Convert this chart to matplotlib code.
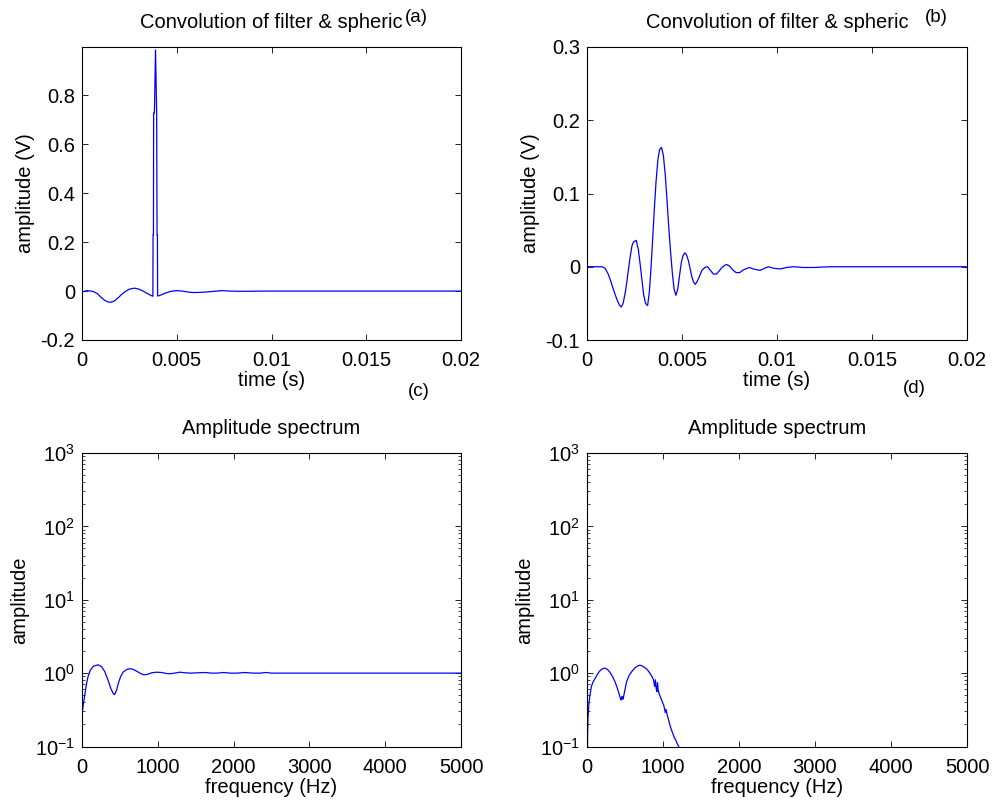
import matplotlib
matplotlib.use("Agg")
import matplotlib.pyplot as plt
import numpy as np

plt.rcParams['font.family'] = ['Liberation Sans', 'DejaVu Sans']
plt.rcParams['mathtext.fontset'] = 'custom'
plt.rcParams['mathtext.rm'] = 'Liberation Sans'
plt.rcParams['mathtext.it'] = 'Liberation Sans'

# (a) convolution of filter & spheric, time in ms
t_a = [0.0, 0.1, 0.2, 0.4, 0.6, 0.8, 1.0, 1.2, 1.4, 1.5,
       1.7, 1.9, 2.1, 2.3, 2.5, 2.77, 3.0, 3.2, 3.4, 3.6,
       3.7, 3.74, 3.75, 3.77, 3.78, 3.82, 3.88, 3.94, 3.96,
       3.98, 3.99, 4.1, 4.4, 4.7, 5.0, 5.3, 5.6, 5.9, 6.3,
       6.7, 7.1, 7.4, 7.8, 8.5, 9.5, 20.0]
v_a = [0.0, -0.002, 0.001, 0.001, -0.002, -0.010, -0.025, -0.038, -0.045, -0.046,
       -0.041, -0.028, -0.013, -0.001, 0.008, 0.012, 0.008, 0.001, -0.008, -0.016,
       -0.020, -0.021, 0.23, 0.23, 0.728, 0.728, 0.986, 0.728, 0.23,
       0.23, -0.02, -0.018, -0.008, -0.001, 0.002, 0.0, -0.004, -0.006, -0.005,
       -0.003, 0.0, 0.002, 0.0, -0.001, 0.0, 0.0]

# (b) convolution of filter & spheric, time in ms
t_b = [0.0, 0.79, 0.95, 1.10, 1.23, 1.40, 1.58, 1.70, 1.80, 1.90,
       2.01, 2.10, 2.19, 2.28, 2.37, 2.45, 2.59, 2.70, 2.80, 2.90,
       2.98, 3.08, 3.19, 3.28, 3.36, 3.45, 3.54, 3.63, 3.73, 3.82,
       3.92, 4.02, 4.12, 4.20, 4.29, 4.39, 4.49, 4.58, 4.68, 4.78,
       4.87, 4.96, 5.05, 5.15, 5.24, 5.34, 5.43, 5.52, 5.61, 5.70,
       5.80, 5.92, 6.05, 6.20, 6.34, 6.50, 6.65, 6.80, 6.95, 7.10,
       7.25, 7.36, 7.50, 7.70, 7.85, 8.03, 8.25, 8.55, 8.75, 9.11,
       9.35, 9.55, 9.80, 10.17, 10.5, 10.87, 11.4, 11.92, 12.8, 20.0]
v_b = [0.0, 0.0, -0.002, -0.009, -0.018, -0.032, -0.045, -0.052, -0.055, -0.050,
       -0.036, -0.020, -0.002, 0.015, 0.029, 0.034, 0.036, 0.024, 0.003, -0.020,
       -0.038, -0.050, -0.053, -0.035, -0.005, 0.035, 0.077, 0.115, 0.146, 0.160,
       0.163, 0.152, 0.125, 0.095, 0.059, 0.023, -0.008, -0.030, -0.039, -0.030,
       -0.012, 0.005, 0.015, 0.019, 0.016, 0.008, -0.003, -0.014, -0.021, -0.024,
       -0.020, -0.013, -0.005, -0.001, 0.0, -0.005, -0.010, -0.010, -0.006, -0.001,
       0.002, 0.003, 0.001, -0.005, -0.008, -0.008, -0.004, -0.001, -0.003, -0.005,
       -0.002, 0.0, -0.002, -0.003, -0.001, 0.0, -0.001, -0.001, 0.0, 0.0]

# (c) amplitude spectrum
f_c = [0, 15, 36, 60, 80, 110, 150, 212, 260, 300, 340, 380, 410, 430, 455, 480,
       510, 545, 590, 632, 680, 730, 780, 817, 860, 920, 985, 1050, 1110, 1162,
       1220, 1294, 1360, 1430, 1530, 1630, 1700, 1780, 1870, 1950, 2050, 2150,
       2250, 2350, 2430, 2500, 5000]
a_c = [0.27, 0.36, 0.50, 0.72, 0.90, 1.10, 1.24, 1.30, 1.22, 1.05, 0.82, 0.62,
       0.53, 0.51, 0.58, 0.73, 0.90, 1.04, 1.12, 1.15, 1.12, 1.05, 0.98, 0.95,
       0.96, 1.01, 1.03, 1.02, 0.99, 0.98, 1.00, 1.03, 1.01, 1.0, 1.01, 1.02,
       1.00, 1.0, 1.02, 1.0, 1.0, 1.02, 1.0, 1.0, 1.02, 1.0, 1.0]

# (d) amplitude spectrum
f_d = [0, 8, 13, 25, 36, 58, 80, 102, 135, 168, 200, 235, 270, 301, 335, 367,
       400, 425, 440, 447, 455, 464, 472, 480, 500, 522, 555, 589, 630, 677,
       700, 721, 755, 788, 810, 832, 855, 875, 890, 900, 910, 920, 928, 935,
       950, 964, 985, 1008, 1020, 1030, 1040, 1055, 1074, 1095, 1119, 1140,
       1150, 1165, 1185, 1207, 1250, 1400, 5000]
a_d = [0.01, 0.15, 0.243, 0.38, 0.48, 0.66, 0.76, 0.83, 0.96, 1.07, 1.14, 1.17,
       1.12, 1.03, 0.90, 0.77, 0.62, 0.51, 0.45, 0.43, 0.47, 0.48, 0.44, 0.47,
       0.60, 0.77, 0.93, 1.05, 1.18, 1.27, 1.28, 1.26, 1.20, 1.13, 1.06, 0.98,
       0.90, 0.81, 0.66, 0.81, 0.62, 0.56, 0.74, 0.60, 0.52, 0.48, 0.42, 0.37,
       0.33, 0.29, 0.32, 0.27, 0.23, 0.19, 0.16, 0.14, 0.13, 0.125, 0.11, 0.1,
       0.07, 0.02, 0.001]

time_ticks = [0, 0.005, 0.01, 0.015, 0.02]
time_labels = ['0', '0.005', '0.01', '0.015', '0.02']
a_yticks = [-0.2, 0, 0.2, 0.4, 0.6, 0.8]
a_ylabels = ['-0.2', '0', '0.2', '0.4', '0.6', '0.8']
b_yticks = [-0.1, 0, 0.1, 0.2, 0.3]
b_ylabels = ['-0.1', '0', '0.1', '0.2', '0.3']
freq_ticks = [0, 1000, 2000, 3000, 4000, 5000]

fig = plt.figure(figsize=(10, 8.06), dpi=100)
W, H = 1000, 806


def axes_px(l, t, r, b):
    return fig.add_axes([l / W, 1 - b / H, (r - l) / W, (b - t) / H])


ax_a = axes_px(82, 47, 461, 340)
ax_b = axes_px(587, 47, 967, 340)
ax_c = axes_px(82, 453, 461, 746.5)
ax_d = axes_px(587, 453, 967, 746.5)

blue = '#0000ff'
fs = 14.5

for ax in (ax_a, ax_b, ax_c, ax_d):
    ax.tick_params(direction='in', top=True, right=True, length=4, width=0.6,
                   labelsize=fs, pad=5)
    ax.tick_params(axis='x', pad=8)
    ax.tick_params(which='minor', direction='in', top=True, right=True, length=2.5, width=0.5)
    for s in ax.spines.values():
        s.set_linewidth(0.8)

ax_a.plot(np.array(t_a) / 1000, v_a, color=blue, lw=0.9)
ax_a.set_xlim(0, 0.02)
ax_a.set_ylim(-0.2, 0.998)
ax_a.set_xticks(time_ticks, time_labels)
ax_a.set_yticks(a_yticks, a_ylabels)
ax_a.set_xlabel('time (s)', fontsize=fs, labelpad=1)
ax_a.set_ylabel('amplitude (V)', fontsize=fs, labelpad=4)
ax_a.set_title('Convolution of filter & spheric', fontsize=fs, pad=14)

ax_b.plot(np.array(t_b) / 1000, v_b, color=blue, lw=0.9)
ax_b.set_xlim(0, 0.02)
ax_b.set_ylim(-0.1, 0.3)
ax_b.set_xticks(time_ticks, time_labels)
ax_b.set_yticks(b_yticks, b_ylabels)
ax_b.set_xlabel('time (s)', fontsize=fs, labelpad=1)
ax_b.set_ylabel('amplitude (V)', fontsize=fs, labelpad=4)
ax_b.set_title('Convolution of filter & spheric', fontsize=fs, pad=14)

for ax, f, a in ((ax_c, f_c, a_c), (ax_d, f_d, a_d)):
    ax.plot(f, a, color=blue, lw=0.9)
    ax.set_yscale('log')
    ax.set_xlim(0, 5000)
    ax.set_ylim(0.1, 1000)
    ax.set_xticks(freq_ticks)
    ax.set_xlabel('frequency (Hz)', fontsize=fs, labelpad=1)
    ax.set_ylabel('amplitude', fontsize=fs, labelpad=4)
    ax.set_title('Amplitude spectrum', fontsize=fs, pad=14)

fig.text(405 / W, 1 - 17 / H, '(a)', fontsize=13.5, va='center', ha='left')
fig.text(925 / W, 1 - 17 / H, '(b)', fontsize=13.5, va='center', ha='left')
fig.text(408 / W, 1 - 391 / H, '(c)', fontsize=13.5, va='center', ha='left')
fig.text(903 / W, 1 - 389 / H, '(d)', fontsize=13.5, va='center', ha='left')

fig.savefig('out.png', dpi=100)
